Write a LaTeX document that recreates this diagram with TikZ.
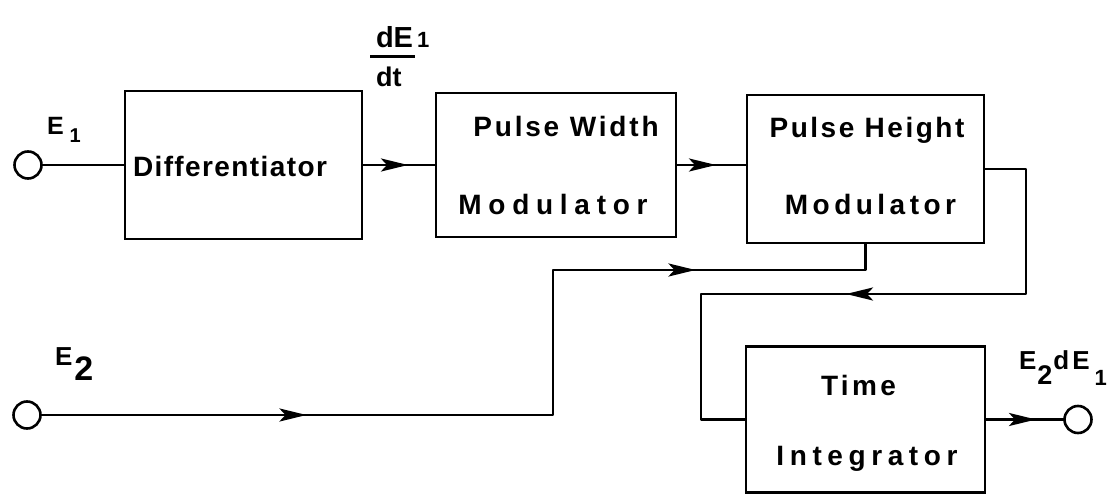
\documentclass[tikz,border=0pt]{standalone}
\usepackage{fontspec}
\setmainfont{Liberation Sans}
\usetikzlibrary{arrows.meta,decorations.markings,calc}
\newcommand\bxf{\fontsize{28}{32}\selectfont\bfseries}
\newcommand\lsp[1]{\addfontfeature{LetterSpace=#1}}
\begin{document}
\begin{tikzpicture}[x=1pt,y=-1pt,
  every node/.style={inner sep=0pt, outer sep=0pt},
  wire/.style={line width=2.8pt, line join=round},
  blk/.style={draw, rectangle, line width=2.8pt},
  term/.style={draw, circle, line width=2.6pt, minimum size=27pt},
  txt/.style={anchor=base, font=\bxf},
  lab/.style={anchor=base west, font=\bfseries},
  arr/.style={postaction={decorate}, decoration={markings,
     mark=at position #1 with {\arrow{Stealth[length=27pt,width=13pt,inset=6pt]}}}},
  arrtwo/.style 2 args={postaction={decorate}, decoration={markings,
     mark=at position #1 with {\arrow{Stealth[length=27pt,width=13pt,inset=6pt]}},
     mark=at position #2 with {\arrow{Stealth[length=27pt,width=13pt,inset=6pt]}}}}
]
\useasboundingbox (0,0) rectangle (1118,494);

% boxes
\node[blk, minimum width=237pt, minimum height=148pt] (diff) at (243.5,165) {};
\node[blk, minimum width=240pt, minimum height=144pt] (pw) at (556,165) {};
\node[blk, minimum width=237pt, minimum height=148pt] (ph) at (865.5,169) {};
\node[blk, minimum width=239pt, minimum height=146pt] (ti) at (865.5,419.5) {};

% box texts
\node[anchor=base west, font=\bxf] (diffT) at (133,177) {\lsp{5}Differentiator};
\node[txt] (pwA) at (566,137) {\lsp{10}Pulse Width};
\node[txt] (pwB) at (553,215) {\lsp{24}Modulator};
\node[txt] (phA) at (867,138) {\lsp{9}Pulse Height};
\node[txt] (phB) at (870.5,215) {\lsp{16}Modulator};
\node[txt] (tiA) at (858.5,395) {\lsp{12}Time};
\node[txt] (tiB) at (867,465) {\lsp{20}Integrator};

% terminals
\node[term] (c1) at (28,165) {};
\node[term] (c2) at (27,415) {};
\node[term] (c3) at (1078,419.5) {};

% labels
\node[lab] (lE1) at (47,135) {\fontsize{25}{25}\selectfont E\kern6pt\raisebox{-8pt}{\fontsize{20}{20}\selectfont 1}};
\node[lab] (lE2) at (55,365) {\fontsize{26}{26}\selectfont E\kern2pt\raisebox{-15pt}{\fontsize{34}{34}\selectfont 2}};
\node[lab] (lOut) at (1019,369) {\fontsize{26}{26}\selectfont E\kern1pt\raisebox{-15pt}{\fontsize{27}{27}\selectfont 2}\kern1pt d\kern3pt E\kern5pt\raisebox{-16pt}{\fontsize{22}{22}\selectfont 1}};
\node[lab] (fnum) at (376,48) {\fontsize{29}{29}\selectfont dE\kern4pt{\fontsize{22}{22}\selectfont 1}};
\node[lab] (fden) at (376,87) {\fontsize{27}{27}\selectfont dt};
\draw[line width=3pt] (370,57) -- (415,57);

% connectors
\coordinate (fbR) at (1026,294);
\coordinate (fbL) at (701,294);
\coordinate (j1) at (553,415);
\coordinate (j2) at (865.5,270);

\draw[wire] (c1.east) -- (diff.west);
\draw[wire, arr=46pt] (diff.east) -- (pw.west);
\draw[wire, arr=40pt] (pw.east) -- (pw.east -| ph.west);
\draw[wire, arr=347pt] (ph.east) -| (fbR) -- (fbL) |- (ti.west);
\draw[wire, arrtwo={266pt}{800pt}] (c2.east) -- (j1) |- (j2) -- (ph.south);
\draw[wire, arr=51pt] (ti.east) -- (c3.west);
\end{tikzpicture}
\end{document}
